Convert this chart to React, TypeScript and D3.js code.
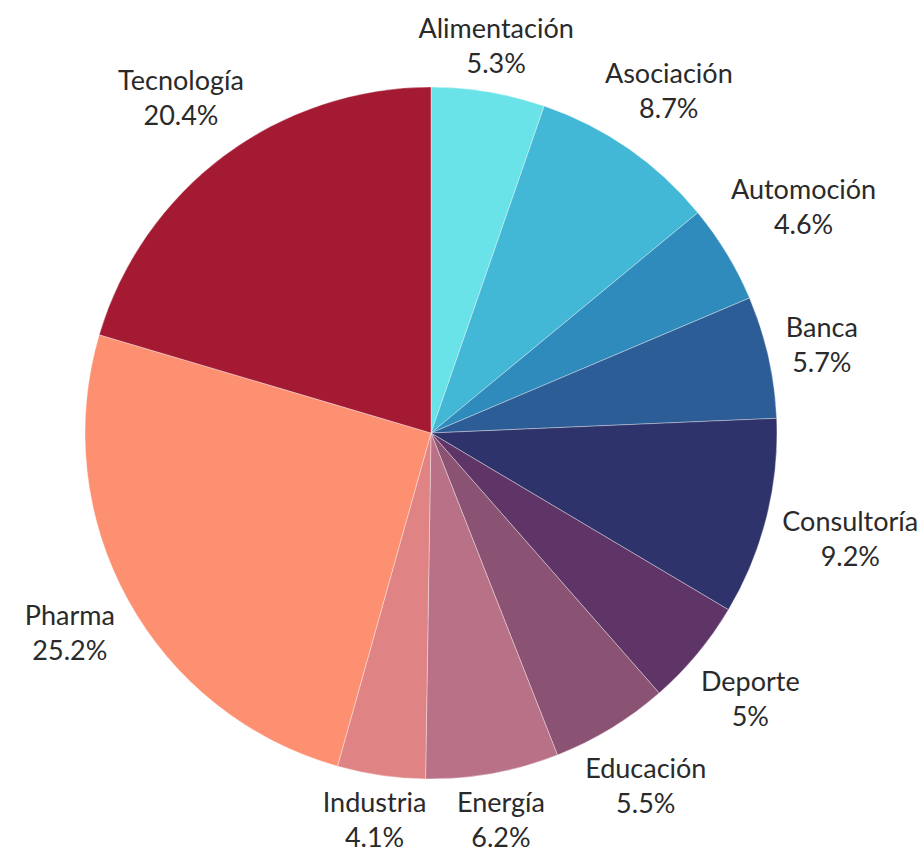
import React, { useEffect, useRef } from "react";
import * as d3 from "d3";

const categories = ["Alimentación", "Asociación", "Automoción", "Banca", "Consultoría", "Deporte", "Educación", "Energía", "Industria", "Pharma", "Tecnología"];
const values = [5.3, 8.7, 4.6, 5.7, 9.2, 5, 5.5, 6.2, 4.1, 25.2, 20.4];
const colors = ["#6ae3e8", "#42b7d6", "#2e8bbb", "#2d5d96", "#2e336b", "#5e3566", "#8a5273", "#b87186", "#e08384", "#fe9072", "#a51a33"];

const W = 922, H = 851;
const CX = 431, CY = 433, R = 346, GAP = 14;

export default function App() {
  const ref = useRef<SVGSVGElement>(null);
  useEffect(() => {
    const svg = d3.select(ref.current);
    svg.selectAll("*").remove();
    const data = categories.map((c, i) => ({ c, v: values[i], col: colors[i] }));
    const pie = d3.pie<any>().value((d) => d.v).sort(null);
    const arcs = pie(data);
    const arc = d3.arc<any>().innerRadius(0).outerRadius(R);
    const g = svg.append("g").attr("transform", `translate(${CX},${CY})`);
    g.selectAll("path").data(arcs).enter().append("path")
      .attr("d", arc as any)
      .attr("fill", (d: any) => d.data.col)
      .attr("stroke", "rgba(255,255,255,0.35)")
      .attr("stroke-width", 1);
    const fs = 27, lh = 35;
    arcs.forEach((a: any) => {
      const mid = (a.startAngle + a.endAngle) / 2;
      const dx = Math.sin(mid), dy = -Math.cos(mid);
      const t = g.append("text")
        .attr("font-family", "Lato, sans-serif")
        .attr("font-size", fs)
        .attr("fill", "#2a2a2a")
        .attr("text-anchor", "middle");
      t.append("tspan").attr("x", 0).attr("dy", 0).text(a.data.c);
      t.append("tspan").attr("x", 0).attr("dy", lh).text(`${a.data.v}%`);
      const node = t.node() as SVGTextElement;
      const bb = node.getBBox();
      const hw = bb.width / 2, hh = (lh + fs * 0.72) / 2;
      const target = R + GAP;
      const dist = (s: number) => {
        const cx = s * dx, cy = s * dy;
        const nx = Math.max(cx - hw, Math.min(0, cx + hw));
        const ny = Math.max(cy - hh, Math.min(0, cy + hh));
        return Math.hypot(nx, ny);
      };
      let lo = 0, hi = 1000;
      for (let k = 0; k < 60; k++) {
        const m = (lo + hi) / 2;
        if (dist(m) < target) lo = m; else hi = m;
      }
      const px = lo * dx, py = lo * dy;
      const top = py - hh;
      t.attr("transform", `translate(${px},${top + fs * 0.72})`);
    });
  }, []);
  return <svg ref={ref} width={W} height={H} style={{ position: "absolute", left: 0, top: 0 }} />;
}
